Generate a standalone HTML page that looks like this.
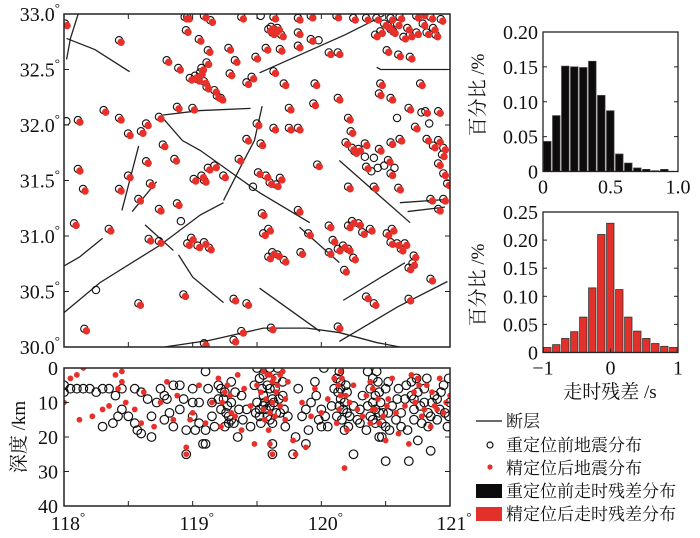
<!DOCTYPE html>
<html><head><meta charset="utf-8">
<style>
html,body{margin:0;padding:0;background:#fff;}
svg{display:block;font-family:"Liberation Serif","Noto Serif CJK SC",serif;}
.lg{font-family:"Liberation Serif","Noto Serif CJK SC",serif;font-size:17px;fill:#111;}
</style></head>
<body>
<svg id="chart" width="700" height="538" viewBox="0 0 700 538"></svg>
<script>
// ---------------- DATA ----------------
const faults = [
 [[118.02,32.59],[118.05,32.78],[118.11,33.0]],
 [[118.02,32.78],[118.24,32.68],[118.51,32.48]],
 [[118.77,32.09],[119.06,32.13],[119.45,32.15]],
 [[118.77,32.06],[118.92,31.86],[119.06,31.77],[119.29,31.58],[119.52,31.39],[119.91,31.12]],
 [[118.58,31.81],[118.45,31.23]],
 [[119.54,32.17],[119.48,31.86],[119.38,31.64],[119.24,31.32]],
 [[119.52,32.47],[119.83,32.63],[120.18,32.81],[120.49,32.99]],
 [[120.43,32.52],[120.46,32.50],[120.98,32.50]],
 [[120.14,31.68],[120.69,31.12]],
 [[120.61,31.30],[120.98,31.33]],
 [[120.67,31.22],[120.96,31.26]],
 [[119.83,31.08],[120.14,30.76]],
 [[120.17,30.42],[120.65,30.76]],
 [[120.14,30.05],[120.59,30.36],[120.98,30.59]],
 [[119.52,30.53],[119.99,30.14]],
 [[118.78,30.0],[119.13,30.06],[119.55,30.17],[119.89,30.17],[120.14,30.13],[120.43,30.04],[120.61,30.0]],
 [[118.0,30.31],[118.28,30.58],[118.75,30.92],[119.06,31.19],[119.24,31.30]],
 [[118.0,30.73],[118.12,30.81],[118.30,30.98]],
 [[118.63,31.10],[118.85,30.87]],
 [[118.89,30.83],[119.0,30.63],[119.24,30.40]],
 [[118.72,31.49],[118.53,31.22]]
];
const epiAfter = [
 [118.95,32.96],[118.97,32.96],[119.1,32.97],[119.15,32.93],[119.39,32.96],[119.64,32.96],[119.83,32.95],[119.93,32.97],[120.13,32.97],[120.26,32.95],[120.36,32.95],[120.44,32.95],[120.55,32.95],[120.75,32.97],[120.86,32.96],[120.94,32.94],
 [119.62,32.87],[119.65,32.84],[119.7,32.8],[119.83,32.82],[119.93,32.76],[120.43,32.8],[120.47,32.83],[120.57,32.83],[120.65,32.78],[120.75,32.82],[120.83,32.82],[120.9,32.8],
 [119.58,32.68],[119.69,32.67],[119.83,32.7],[120.07,32.64],[120.14,32.64],[120.52,32.66],[120.61,32.62],[120.7,32.6],
 [118.02,32.9],[118.44,32.75],[118.96,32.84],[119.06,32.76],[119.12,32.55],[119.13,32.66],[119.29,32.68],[119.34,32.57],[118.9,32.5],[118.81,32.57],[119.03,32.43],[119.07,32.46],
 [119.1,32.38],[119.18,32.3],[119.23,32.23],[119.47,32.42],[119.43,32.37],[119.64,32.47],[119.72,32.36],[119.96,32.36],[119.3,32.45],[119.5,32.6],
 [119.01,32.14],[118.89,32.15],[118.75,32.06],[118.65,32.0],[118.44,32.05],[118.32,32.12],[118.12,32.03],
 [120.46,32.27],[120.55,32.23],[120.47,32.36],[120.78,32.36],[120.69,32.14],[120.82,32.11],[120.92,32.11],[120.74,31.97],[120.83,31.86],[120.92,31.85],[120.96,31.78],
 [119.76,32.14],[119.83,31.96],[119.95,32.18],[120.14,32.23],[120.22,32.05],[120.24,31.93],[119.76,31.96],[119.64,31.96],[119.51,32.0],[119.43,31.86],[119.54,31.82],[119.37,31.68],[119.98,31.63],[120.3,31.77],[120.46,31.77],[120.53,31.67],[120.36,31.61],[120.55,31.55],[120.61,31.42],[120.42,31.43],[120.22,31.43],
 [118.51,31.91],[118.61,31.93],[118.78,31.81],[118.87,31.68],[118.65,31.66],[118.51,31.53],[118.44,31.41],[118.12,31.59],[118.16,31.41],[118.09,31.1],[118.36,31.05],[118.59,31.32],[118.68,31.46],[118.75,31.23],[118.89,31.28],[119.02,31.5],[119.13,31.6],
 [119.25,31.53],[119.52,31.56],[119.61,31.47],[119.69,31.51],[119.55,31.19],[119.56,31.01],[119.6,31.05],[119.83,31.22],[119.91,31.01],[120.07,31.08],[120.22,30.87],[120.14,30.87],[120.3,31.1],[120.39,31.05],[120.56,31.05],[120.63,30.87],[120.73,30.81],[120.86,31.32],[120.96,31.32],[120.92,31.23],
 [119.0,30.97],[119.1,30.93],[119.14,30.88],[118.67,30.96],[118.75,30.94],[118.59,30.38],[118.17,30.15],[118.94,30.46],[119.33,30.42],[119.43,30.38],[119.63,30.84],[119.72,30.77],[120.07,30.84],[120.19,30.68],[120.26,30.79],[120.36,30.44],[120.42,30.38],[120.52,31.01],[120.69,30.42],[120.72,30.74],[120.86,30.6],[120.69,30.7],[119.85,30.84],
 [119.62,30.16],[119.1,30.02],[119.33,30.05],[120.14,30.17],[119.39,30.13],[120.96,31.55],[120.99,31.46],[120.92,31.64],
 [119.6,32.85],[119.63,32.82],[119.67,32.86],[120.53,32.88],[120.55,32.85],[120.6,32.9],[120.68,32.86],[120.7,32.8],[120.8,32.9],[120.88,32.86],[120.62,32.96],[120.8,32.99],[120.5,32.9],
 [118.99,32.41],[119.05,32.4],[119.12,32.33],[119.2,32.25],[119.08,32.5],[120.2,31.83],[120.25,31.78],[120.27,31.75],[120.35,31.82],[120.55,31.83],[120.62,31.86],[120.88,31.8],[120.95,31.72],
 [119.08,31.53],[119.1,31.49],[119.18,31.62],[119.58,31.53],[119.66,31.45],[120.22,31.08],[120.25,31.12],[120.33,31.02],[120.55,30.93],[120.6,30.92],[120.66,30.92],[119.6,30.8],[119.67,30.82],[119.05,30.9],[118.97,30.92],[120.1,30.95],[120.18,30.9]
];
const epiBeforeOnly = [[119.54,32.97],[118.26,30.5],[118.03,32.02],[120.35,31.7],[120.45,31.6],[119.99,32.75],[119.48,31.43],[118.92,31.12],[120.6,32.05],[120.85,32.0],[120.42,31.69],[120.5,31.62],[120.58,31.6],[120.4,31.57],[120.79,32.1]];
const depthBefore = [
 [118.0,5],[118.0,7],[118.05,6],[118.1,6],[118.15,6],[118.2,6],[118.25,7],[118.3,6],[118.3,17],[118.35,6],[118.38,16],[118.4,8],[118.42,14],[118.45,6],[118.45,12],[118.5,14],[118.55,6],[118.55,16],[118.57,18],[118.6,19],[118.6,7],[118.65,9],[118.68,14],[118.68,20],[118.75,6],[118.78,15],[118.8,9],[118.85,17],[118.85,5],[118.9,12],[118.95,25],[118.95,18],[119.0,6],[119.0,14],[119.02,18],[119.05,10],[119.08,22],[119.1,22],[119.1,1],[119.1,18],[119.15,14],[119.2,9],[119.2,5],[119.22,12],[119.25,17],[119.25,7],[119.28,14],[119.3,10],[119.3,4],[119.32,16],[119.35,20],[119.38,8],[119.42,12],[119.45,17],[119.48,5],[119.5,0],[119.5,10],[119.52,14],[119.55,2],[119.55,8],[119.57,12],[119.6,6],[119.6,15],[119.62,22],[119.62,25],[119.63,10],[119.65,3],[119.68,13],[119.7,8],[119.72,17],[119.78,25],[119.8,20],[119.82,6],[119.85,14],[119.88,22],[119.9,18],[119.92,10],[119.95,4],[119.98,15],[120.0,12],[120.02,0],[120.05,17],[120.08,11],[120.1,6],[120.12,14],[120.15,4],[120.15,9],[120.17,12],[120.18,18],[120.2,7],[120.22,14],[120.25,25],[120.28,15],[120.3,12],[120.32,8],[120.35,18],[120.38,14],[120.4,3],[120.4,10],[120.42,16],[120.45,20],[120.45,7],[120.48,13],[120.5,27],[120.5,17],[120.52,4],[120.55,11],[120.58,15],[120.6,6],[120.62,13],[120.65,9],[120.67,18],[120.68,27],[120.7,4],[120.72,12],[120.75,21],[120.75,7],[120.78,16],[120.8,10],[120.82,3],[120.85,24],[120.85,14],[120.88,8],[120.92,12],[120.95,5],[120.98,17],[121.0,10],
 [119.55,11],[119.58,5],[119.62,9],[119.52,12],[119.27,11],[119.3,15],[120.15,6],[120.18,10],[120.42,8],[120.45,13],[120.72,9],[120.9,9],
 [119.22,6],[119.24,9],[119.26,13],[119.28,16],[119.33,7],[119.36,12],[119.39,15],[119.52,3],[119.54,6],[119.56,10],[119.58,14],[119.6,0],[119.6,11],[119.62,16],[119.64,6],[119.65,13],[119.66,0],[119.67,9],[119.7,4],[119.71,12],[119.74,14],[119.53,16],[119.49,13],
 [120.12,3],[120.13,7],[120.14,11],[120.16,15],[120.19,5],[120.2,13],[120.21,17],[120.14,1],
 [120.36,11],[120.38,6],[120.4,15],[120.42,12],[120.44,4],[120.46,10],[120.47,16],[120.5,6],[120.52,13],[120.53,18],[120.36,1],[120.43,1],[120.47,20],
 [120.7,8],[120.72,15],[120.74,3],[120.77,11],[120.8,6],[120.83,13],[120.86,10],[120.9,15],[120.93,7],[120.96,13],[120.99,3],[120.99,14],[120.83,17],
 [118.9,5],[118.93,9],[119.0,10],[119.05,16],[119.12,6],[119.15,10],[119.17,17],[118.78,8],[118.72,10],[118.82,13],[119.88,12],[119.96,8],[120.03,14],[120.0,17],[120.25,11],[120.3,16],[120.59,9],[120.62,17],[120.66,5]
];
const depthAfter = [
 [118.0,10],[118.05,3],[118.1,2],[118.12,15],[118.15,0],[118.22,14],[118.3,12],[118.35,11],[118.4,2],[118.42,6],[118.45,1],[118.48,10],[118.55,12],[118.6,16],[118.62,7],[118.7,17],[118.75,10],[118.8,4],[118.85,15],[118.95,23],[118.95,25],[119.0,13],[119.05,5],[119.1,16],[119.15,10],[119.2,3],[119.22,17],[119.25,7],[119.3,13],[119.35,2],[119.38,18],[119.45,11],[119.48,22],[119.5,5],[119.55,1],[119.57,9],[119.6,13],[119.6,22],[119.62,25],[119.63,3],[119.65,7],[119.68,11],[119.7,1],[119.72,15],[119.78,21],[119.8,25],[119.85,10],[119.88,23],[119.92,14],[119.95,6],[120.0,13],[120.05,9],[120.1,3],[120.12,16],[120.15,1],[120.18,29],[120.2,18],[120.22,10],[120.25,5],[120.28,12],[120.32,14],[120.35,8],[120.38,4],[120.42,12],[120.45,16],[120.5,21],[120.52,9],[120.55,3],[120.58,13],[120.6,19],[120.65,11],[120.68,22],[120.7,2],[120.72,7],[120.78,14],[120.82,5],[120.85,17],[120.88,11],[120.92,3],[120.95,13],[121.0,8],
 [119.58,2],[119.62,4],[119.55,12],[120.15,8],[120.4,12],[119.27,5],[118.45,4],[120.75,3],
 [119.53,7],[119.56,15],[119.6,2],[119.62,10],[119.64,14],[119.66,5],[119.68,2],[119.72,9],[119.74,4],[119.59,18],[120.13,5],[120.14,12],[120.16,3],[120.19,8],[120.4,6],[120.44,9],[120.48,14],[120.51,11],[120.38,16],[120.73,10],[120.76,5],[120.8,12],[120.86,7],[120.9,12],[120.97,10],[119.23,10],[119.29,8],[119.33,14],[119.4,6],[118.88,8],[118.98,15]
];
const hist1Values = [0.043,0.080,0.151,0.150,0.149,0.158,0.109,0.087,0.025,0.012,0.005,0.003,0.001,0.003,0.0];
const hist1Ticks = ["0","0.5","1.0"];
const hist1YTicks = ["0","0.05","0.10","0.15","0.20"];
const hist2Values = [0.009,0.014,0.025,0.037,0.063,0.115,0.210,0.230,0.112,0.063,0.038,0.025,0.016,0.011,0.009];
const hist2Ticks = ["\u22121","0","1"];
const hist2YTicks = ["0","0.05","0.10","0.15","0.20","0.25"];
const latTicks = ["30.0","30.5","31.0","31.5","32.0","32.5","33.0"];
const lonTicks = ["118","119","120","121"];
const depthTicks = ["0","10","20","30","40"];

// ---------------- DRAW ----------------
const NS="http://www.w3.org/2000/svg";
const svg=document.getElementById('chart');
function el(tag,attrs,parent){const e=document.createElementNS(NS,tag);for(const k in attrs)e.setAttribute(k,attrs[k]);(parent||svg).appendChild(e);return e;}
const MX0=64,MX1=450,MY0=14,MY1=347;
const lonX=v=>MX0+(v-118)/3*(MX1-MX0);
const latY=v=>MY1-(v-30)/3*(MY1-MY0);
const DY0=368,DY1=506;
const depY=v=>DY0+v/40*(DY1-DY0);

const defs=el('defs',{});
const cp=el('clipPath',{id:'mapclip'},defs);el('rect',{x:MX0,y:MY0,width:MX1-MX0,height:MY1-MY0},cp);
const cp2=el('clipPath',{id:'depclip'},defs);el('rect',{x:MX0,y:DY0,width:MX1-MX0,height:DY1-DY0},cp2);

function degText(x,y,anchor,t,name){
  const tx=el('text',{x:x,y:y,'text-anchor':anchor,'font-size':20,fill:'#111'});
  
  
  const a=el('tspan',{},tx);a.textContent=t;
  const b=el('tspan',{'font-size':13,dy:-9},tx);b.textContent='\u00b0';
  return tx;
}

const mapG=el('g',{'clip-path':'url(#mapclip)'});


faults.forEach(f=>{
  const p=el('polyline',{points:f.map(q=>lonX(q[0])+','+latY(q[1])).join(' '),fill:'none',stroke:'#222','stroke-width':1.3},mapG);
  
  
});
epiAfter.concat(epiBeforeOnly).forEach(q=>{
  const c=el('circle',{cx:lonX(q[0])-1.5,cy:latY(q[1])-1.5,r:3.7,fill:'none',stroke:'#111','stroke-width':1.1},mapG);
  
  
});
epiAfter.forEach(q=>{
  const c=el('circle',{cx:lonX(q[0])+0.5,cy:latY(q[1])+0.5,r:3.7,fill:'#e8302a'},mapG);
  
  
});
const mapFrame=el('rect',{x:MX0,y:MY0,width:MX1-MX0,height:MY1-MY0,fill:'none',stroke:'#222','stroke-width':1.5});


latTicks.forEach(t=>{
  const y=latY(parseFloat(t));
  el('line',{x1:MX0,x2:MX0+5,y1:y,y2:y,stroke:'#222'});
  el('line',{x1:MX1,x2:MX1-5,y1:y,y2:y,stroke:'#222'});
  degText(60,y+7,'end',t,'lat-tick-label');
});
for(let v=118.5;v<121;v+=0.5){const x=lonX(v);el('line',{x1:x,x2:x,y1:MY1,y2:MY1-5,stroke:'#222'});el('line',{x1:x,x2:x,y1:MY0,y2:MY0+5,stroke:'#222'});}

const depG=el('g',{'clip-path':'url(#depclip)'});


depthBefore.forEach(q=>{
  const c=el('circle',{cx:lonX(q[0]),cy:depY(q[1]),r:4.3,fill:'none',stroke:'#111','stroke-width':1.2},depG);
  
  
});
depthAfter.forEach(q=>{
  const c=el('circle',{cx:lonX(q[0]),cy:depY(q[1]),r:2.9,fill:'#e8302a'},depG);
  
  
});
const depFrame=el('rect',{x:MX0,y:DY0,width:MX1-MX0,height:DY1-DY0,fill:'none',stroke:'#222','stroke-width':1.5});


depthTicks.forEach(t=>{
  const y=depY(parseFloat(t));
  el('line',{x1:MX0,x2:MX0+5,y1:y,y2:y,stroke:'#222'});
  el('line',{x1:MX1,x2:MX1-5,y1:y,y2:y,stroke:'#222'});
  const tx=el('text',{x:58,y:y+7,'text-anchor':'end','font-size':20,fill:'#111'});
  tx.textContent=t;
  
  
});
lonTicks.forEach(t=>{
  const x=lonX(parseFloat(t));
  el('line',{x1:x,x2:x,y1:DY1,y2:DY1-5,stroke:'#222'});
  degText(x+4,530,'middle',t,'lon-tick-label');
});
for(let v=118.5;v<121;v+=1){const x=lonX(v);el('line',{x1:x,x2:x,y1:DY1,y2:DY1-5,stroke:'#222'});}
const dt=el('text',{x:0,y:0,'text-anchor':'middle','font-size':19,fill:'#111',transform:'translate(25,437) rotate(-90)'});
dt.textContent='深度 /km';



function hist(vals,x0,x1,y0,y1,ymax,fill,xt,yt,ystep,name){
  const g=el('g',{});
  
  
  const n=vals.length,bw=(x1-x0)/n;
  const yS=v=>y1-v/ymax*(y1-y0);
  vals.forEach((v,i)=>{
    const r=el('rect',{x:x0+i*bw+0.6,y:yS(v),width:bw-1.6,height:y1-yS(v),fill:fill,stroke:'#333','stroke-width':0.8},g);
    
    
  });
  el('rect',{x:x0,y:y0,width:x1-x0,height:y1-y0,fill:'none',stroke:'#222','stroke-width':1.3},g);
  yt.forEach((t,i)=>{
    const y=yS(i*ystep);
    el('line',{x1:x0,x2:x0+4,y1:y,y2:y,stroke:'#222'},g);
    el('line',{x1:x1,x2:x1-4,y1:y,y2:y,stroke:'#222'},g);
    const tx=el('text',{x:x0-5,y:y+7,'text-anchor':'end','font-size':20,fill:'#111'},g);
    tx.textContent=t;
    
    
  });
  xt.forEach((t,i)=>{
    const x=x0+i*(x1-x0)/(xt.length-1);
    el('line',{x1:x,x2:x,y1:y1,y2:y1-4,stroke:'#222'},g);
    const tx=el('text',{x:x,y:y1+22,'text-anchor':'middle','font-size':20,fill:'#111'},g);
    tx.textContent=t;
    
    
  });
}
hist(hist1Values,543,678,32,171.5,0.20,'#0d0b0b',hist1Ticks,hist1YTicks,0.05,'histogram-before');
hist(hist2Values,543,678,212,352.5,0.25,'#e2302a',hist2Ticks,hist2YTicks,0.05,'histogram-after');
[95,285].forEach(p=>{
  const t=el('text',{x:0,y:0,'text-anchor':'middle','font-size':19,fill:'#111',transform:'translate(484,'+p+') rotate(-90)'});
  t.textContent='百分比 /%';
  
  
});
const xtitle=el('text',{x:610,y:398,'text-anchor':'middle','font-size':19,fill:'#111'});
xtitle.textContent='走时残差 /s';



const lg=el('g',{});


el('line',{x1:476,x2:502,y1:421,y2:421,stroke:'#111','stroke-width':1.3},lg);
el('circle',{cx:490,cy:445,r:3,fill:'none',stroke:'#111','stroke-width':1.2},lg);
el('circle',{cx:490,cy:467,r:2.6,fill:'#e8302a'},lg);
el('rect',{x:476,y:484,width:26,height:14,fill:'#0d0b0b'},lg);
el('rect',{x:476,y:507,width:26,height:14,fill:'#e2302a'},lg);
[['断层',427,'legend-fault'],['重定位前地震分布',451,'legend-before-quakes'],['精定位后地震分布',474,'legend-after-quakes'],['重定位前走时残差分布',497,'legend-before-residual'],['精定位后走时残差分布',520,'legend-after-residual']].forEach(a=>{
  const t=el('text',{x:506,y:a[1],class:'lg'},lg);
  t.textContent=a[0];
  
  
});
</script>
</body></html>
